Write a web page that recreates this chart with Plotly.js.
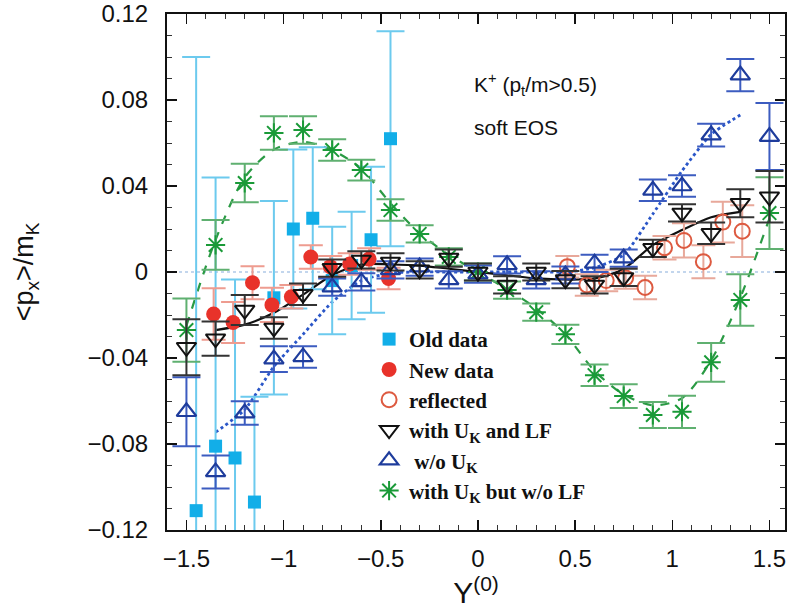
<!DOCTYPE html>
<html>
<head>
<meta charset="utf-8">
<script src="https://cdn.plot.ly/plotly-3.0.1.min.js"></script>
<style>html,body{margin:0;padding:0;background:#fff;}#chart{width:793px;height:610px;}</style>
</head>
<body>
<div id="chart"></div>
<script>
// ---- data ----
const oldX = [-1.45,-1.35,-1.25,-1.15,-1.05,-0.95,-0.85,-0.75,-0.65,-0.55,-0.45];
const oldY = [-0.111,-0.081,-0.0865,-0.107,-0.012,0.020,0.025,-0.004,0.003,0.015,0.062];
const oldErr = [0.211,0.125,0.083,0.049,0.045,0.037,0.033,0.025,0.025,0.034,0.050];

const newX = [-1.36,-1.26,-1.16,-1.06,-0.96,-0.86,-0.76,-0.66,-0.56,-0.46];
const newY = [-0.0195,-0.0235,-0.005,-0.0153,-0.0115,0.007,0.0025,0.0037,0.006,-0.003];
const newErr = [0.012,0.0095,0.0077,0.008,0.0055,0.0055,0.005,0.005,0.005,0.005];

const refX = [0.46,0.56,0.66,0.76,0.86,0.96,1.06,1.16,1.26,1.36];
const refY = [0.0025,-0.006,-0.004,-0.0028,-0.0072,0.0113,0.0147,0.0048,0.0232,0.0190];
const refErr = [0.005,0.005,0.005,0.005,0.0055,0.0055,0.008,0.0077,0.0095,0.012];

const simX = [-1.5,-1.35,-1.2,-1.05,-0.9,-0.75,-0.6,-0.45,-0.3,-0.15,0,0.15,0.3,0.45,0.6,0.75,0.9,1.05,1.2,1.35,1.5];
const lfY = [-0.035,-0.031,-0.0177,-0.026,-0.0103,0.0018,0.0056,0.0047,0.001,0.0065,0,-0.006,0,-0.0035,-0.006,-0.0025,0.011,0.0275,0.018,0.032,0.035];
const lfErr = [0.013,0.008,0.007,0.005,0.005,0.004,0.004,0.004,0.004,0.004,0.004,0.004,0.004,0.004,0.004,0.004,0.004,0.004,0.005,0.0065,0.012];
const noUY = [-0.065,-0.093,-0.0656,-0.0405,-0.0395,-0.007,-0.0046,0.001,0.0023,-0.0037,-0.001,0.0033,-0.0037,-0.0014,0.004,0.0065,0.038,0.040,0.0637,0.0916,0.063];
const noUErr = [0.016,0.0077,0.0055,0.006,0.005,0.004,0.004,0.004,0.004,0.004,0.004,0.004,0.004,0.004,0.004,0.004,0.005,0.005,0.0053,0.0075,0.0156];
const noLFY = [-0.027,0.0126,0.0414,0.0647,0.066,0.0567,0.0474,0.0288,0.0177,0.007,0,-0.0084,-0.0187,-0.029,-0.048,-0.0577,-0.0665,-0.065,-0.042,-0.013,0.0274];
const noLFErr = [0.0147,0.0116,0.009,0.0078,0.0064,0.005,0.0048,0.005,0.004,0.004,0.004,0.004,0.004,0.0045,0.005,0.0055,0.006,0.0075,0.009,0.012,0.0167];

const curveX = [-1.35,-1.2,-1.05,-0.9,-0.75,-0.6,-0.45,-0.3,-0.15,0,0.15,0.3,0.45,0.6,0.75,0.9,1.05,1.2,1.35];
const lfCurve = [-0.027,-0.0245,-0.019,-0.0105,-0.0015,0.0035,0.0035,0.003,0.0015,0,-0.0015,-0.003,-0.0035,-0.003,0.0015,0.0125,0.0195,0.0255,0.028];
const noUCurve = [-0.0745,-0.064,-0.044,-0.029,-0.014,-0.004,-0.0005,0,0,0,0,0,0,0.002,0.008,0.027,0.047,0.064,0.073];
const noLFCurve = [-0.025,0.015,0.044,0.057,0.0605,0.0567,0.048,0.032,0.018,0.008,0,-0.008,-0.017,-0.029,-0.046,-0.057,-0.062,-0.0587,-0.041,-0.012,0.025];

const legendNames = ['Old data','New data','reflected','with U<sub>K</sub> and LF',' w/o U<sub>K</sub>','with U<sub>K</sub> but w/o LF'];

// ---- traces ----
function errs(arr, color, w){ return {type:'data', array:arr, visible:true, color:color, thickness:2, width:w}; }

const traces = [
  {x:simX, y:noLFCurve, mode:'lines', line:{color:'#2a9a44', width:2.2, dash:'dash', shape:'spline', smoothing:0.8}, showlegend:false, hoverinfo:'skip'},
  {x:curveX, y:noUCurve, mode:'lines', line:{color:'#2a56c8', width:2.8, dash:'dot', shape:'spline', smoothing:0.6}, showlegend:false, hoverinfo:'skip'},
  {x:curveX, y:lfCurve, mode:'lines', line:{color:'#111', width:2.2, shape:'spline', smoothing:0.8}, showlegend:false, hoverinfo:'skip'},
  {x:oldX, y:oldY, name:legendNames[0], legendrank:1, mode:'markers', marker:{symbol:'square', size:13, color:'#12aee8'}, error_y:errs(oldErr,'#6ccaee',14)},
  {x:newX, y:newY, name:legendNames[1], legendrank:2, mode:'markers', marker:{symbol:'circle', size:15, color:'#e8322a'}, error_y:errs(newErr,'#ee9c90',12)},
  {x:refX, y:refY, name:legendNames[2], legendrank:3, mode:'markers', marker:{symbol:'circle-open', size:15, color:'#dd5a40', line:{width:2}}, error_y:errs(refErr,'#e8a89a',12)},
  {x:simX, y:noLFY, name:legendNames[5], legendrank:6, mode:'markers', marker:{symbol:'asterisk-open', size:16, color:'#1a9a38', line:{width:2, color:'#1a9a38'}}, error_y:errs(noLFErr,'#5fb070',14)},
  {x:simX, y:noUY, name:legendNames[4], legendrank:5, mode:'markers', marker:{symbol:'triangle-up-open', size:17, color:'#1e3c9c', line:{width:2.2}}, error_y:errs(noUErr,'#3c5cc0',14)},
  {x:simX, y:lfY, name:legendNames[3], legendrank:4, mode:'markers', marker:{symbol:'triangle-down-open', size:17, color:'#111', line:{width:2}}, error_y:errs(lfErr,'#333',14)}
];

const tickFont = {family:'Liberation Sans, Arial, sans-serif', size:24, color:'#111'};

const layout = {
  width:793, height:610,
  margin:{l:167, r:8, t:14, b:80},
  paper_bgcolor:'#fff', plot_bgcolor:'#fff',
  showlegend:true,
  legend:{x:0.327, y:0.409, xanchor:'left', yanchor:'top', bgcolor:'rgba(255,255,255,0)',
          font:{family:'Liberation Serif, Times New Roman, serif', size:21, color:'#111', weight:'bold'},
          tracegroupgap:0, itemwidth:30},
  xaxis:{range:[-1.6,1.58], tick0:0, dtick:0.5, ticks:'inside', ticklen:10, tickwidth:1.5, tickcolor:'#111',
         showline:true, linecolor:'#111', linewidth:2, mirror:'allticks', showgrid:false, zeroline:false,
         tickfont:tickFont, ticklabelstandoff:6,
         minor:{dtick:0.1, ticks:'inside', ticklen:5, tickwidth:1, tickcolor:'#333', showgrid:false},
         title:{text:'Y<sup>(0)</sup>', font:{family:'Liberation Sans, Arial, sans-serif', size:30, color:'#111'}, standoff:4}},
  yaxis:{range:[-0.12,0.12], tick0:0, dtick:0.04, ticks:'inside', ticklen:10, tickwidth:1.5, tickcolor:'#111',
         showline:true, linecolor:'#111', linewidth:2, mirror:'allticks', showgrid:false, zeroline:false,
         tickfont:tickFont, ticklabelstandoff:12,
         minor:{dtick:0.01, ticks:'inside', ticklen:5, tickwidth:1, tickcolor:'#333', showgrid:false},
         title:{text:'&lt;p<sub>x</sub>&gt;/m<sub>K</sub>', font:{family:'Liberation Sans, Arial, sans-serif', size:27, color:'#111'}, standoff:46}},
  shapes:[{type:'line', xref:'paper', x0:0, x1:1, yref:'y', y0:0, y1:0, line:{color:'#88aedb', width:1.2, dash:'dot'}, layer:'below'}],
  annotations:[
    {x:-0.03, y:0.087, xref:'x', yref:'y', xanchor:'left', yanchor:'middle', showarrow:false,
     text:'K<sup>+</sup> (p<sub>t</sub>/m>0.5)', font:{family:'Liberation Sans, Arial, sans-serif', size:21, color:'#111'}},
    {x:-0.03, y:0.067, xref:'x', yref:'y', xanchor:'left', yanchor:'middle', showarrow:false,
     text:'soft EOS', font:{family:'Liberation Sans, Arial, sans-serif', size:21, color:'#111'}}
  ]
};

Plotly.newPlot('chart', traces, layout, {displayModeBar:false, staticPlot:true});
</script>
</body>
</html>
